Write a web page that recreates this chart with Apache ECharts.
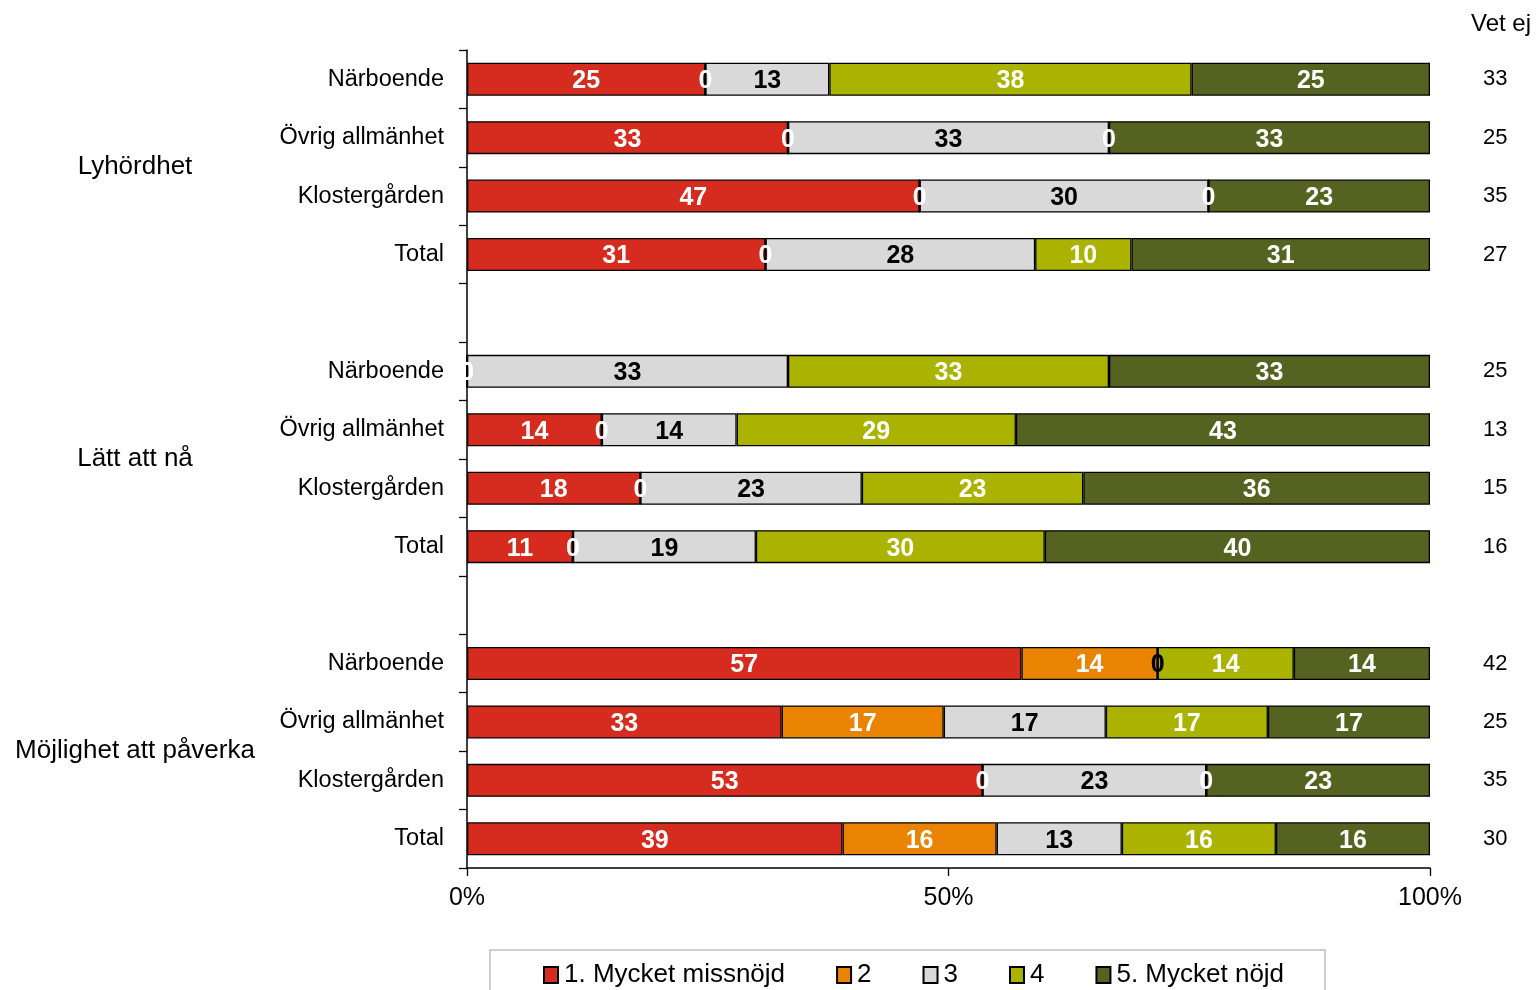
<!DOCTYPE html>
<html>
<head>
<meta charset="utf-8">
<script src="https://cdn.jsdelivr.net/npm/echarts@6/dist/echarts.min.js"></script>
<style>
html,body{margin:0;padding:0;background:#fff;}
#chart{width:1538px;height:990px;}
</style>
</head>
<body>
<div id="chart"></div>
<script>
// ---- data ----
const groups = ['Lyhördhet', 'Lätt att nå', 'Möjlighet att påverka'];
const subCategories = ['Närboende', 'Övrig allmänhet', 'Klostergården', 'Total'];
const seriesNames = ['1. Mycket missnöjd', '2', '3', '4', '5. Mycket nöjd'];
// values per series, rows in order: Lyhördhet x4, Lätt att nå x4, Möjlighet att påverka x4
const s1 = [25, 33, 47, 31, 0, 14, 18, 11, 57, 33, 53, 39];
const s2 = [0, 0, 0, 0, 0, 0, 0, 0, 14, 17, 0, 16];
const s3 = [13, 33, 30, 28, 33, 14, 23, 19, 0, 17, 23, 13];
const s4 = [38, 0, 0, 10, 33, 29, 23, 30, 14, 17, 0, 16];
const s5 = [25, 33, 23, 31, 33, 43, 36, 40, 14, 17, 23, 16];
const vetEj = [33, 25, 35, 27, 25, 13, 15, 16, 42, 25, 35, 30];
const xTicks = [0, 50, 100];

const colors = ['#D62B1F', '#E98300', '#D9D9D9', '#AAB400', '#556220'];
const labelColors = ['#fff', '#fff', '#000', '#fff', '#fff'];
const raw = [s1, s2, s3, s4, s5];

// ---- build slots (with gaps between groups) ----
const slotCats = [];
const slotRow = []; // row index or -1 for gap
groups.forEach((g, gi) => {
  subCategories.forEach((c, ci) => { slotCats.push(c); slotRow.push(gi * 4 + ci); });
  if (gi < groups.length - 1) { slotCats.push(' '.repeat(gi + 1)); slotRow.push(-1); }
});
const rowSums = s1.map((_, r) => raw.reduce((a, s) => a + s[r], 0));
const groupCenter = {};
groups.forEach((g, gi) => { groupCenter[gi * 5 + 2] = g; });

const FONT = "'Liberation Sans', Arial, sans-serif";

const series = raw.map((arr, k) => ({
  name: seriesNames[k],
  type: 'bar',
  stack: 'all',
  yAxisIndex: 0,
  barWidth: 33,
  data: slotRow.map(r => r < 0 ? null : arr[r] / rowSums[r] * 100),
  itemStyle: { color: colors[k], borderColor: '#000', borderWidth: 1.3 },
  label: {
    show: true,
    position: 'inside',
    offset: [0, 2],
    color: labelColors[k],
    fontFamily: FONT,
    fontSize: 25,
    fontWeight: 'bold',
    formatter: p => { const r = slotRow[p.dataIndex]; return r < 0 ? '' : String(arr[r]); }
  },
  emphasis: { disabled: true }
}));

const chart = echarts.init(document.getElementById('chart'));
chart.setOption({
  animation: false,
  backgroundColor: '#fff',
  title: {
    text: 'Vet ej', left: 1471, top: 12, padding: 0,
    textStyle: { fontFamily: FONT, fontSize: 24, fontWeight: 'normal', color: '#000' }
  },
  grid: { left: 467, right: 108, top: 50, bottom: 122, containLabel: false },
  legend: {
    left: 490, top: 950,
    itemWidth: 14, itemHeight: 16, itemGap: 51,
    padding: [12, 41, 30, 53],
    borderColor: '#BFBFBF', borderWidth: 1.5,
    icon: 'rect',
    textStyle: { fontFamily: FONT, fontSize: 26, color: '#000', padding: [0, 0, 0, 1] },
    data: seriesNames
  },
  xAxis: {
    type: 'value', position: 'bottom', min: xTicks[0], max: xTicks[xTicks.length - 1], interval: xTicks[1] - xTicks[0],
    axisLine: { show: true, onZero: false, lineStyle: { color: '#000', width: 1.5 } },
    axisTick: { show: true, length: 8, lineStyle: { color: '#000', width: 1.3 } },
    splitLine: { show: false },
    axisLabel: { formatter: '{value}%', fontFamily: FONT, fontSize: 25, color: '#000', margin: 18 }
  },
  yAxis: [
    {
      type: 'category', data: slotCats, inverse: true, position: 'left',
      axisLine: { show: true, onZero: false, lineStyle: { color: '#000', width: 1.5 } },
      axisTick: { show: true, length: 8, lineStyle: { color: '#000', width: 1.3 } },
      axisLabel: { fontFamily: FONT, fontSize: 23.5, color: '#000', margin: 23, interval: 0, padding: [7, 0, 0, 0] }
    },
    {
      type: 'category', data: slotCats, inverse: true, position: 'right',
      axisLine: { show: false }, axisTick: { show: false },
      axisLabel: {
        fontFamily: FONT, fontSize: 22, color: '#000', margin: 53, align: 'left', interval: 0,
        padding: [4, 0, 0, 0],
        formatter: (v, i) => { const r = slotRow[i]; return r < 0 ? '' : String(vetEj[r]); }
      }
    },
    {
      type: 'value', min: 0, max: slotCats.length, interval: 1, inverse: true, position: 'left',
      axisLine: { show: false, onZero: false }, axisTick: { show: false }, splitLine: { show: false },
      axisLabel: {
        fontFamily: FONT, fontSize: 26, color: '#000', margin: 332, align: 'center',
        showMinLabel: true, showMaxLabel: true, padding: [10, 0, 0, 0],
        formatter: v => groupCenter[v] || ''
      }
    }
  ],
  series: series
});
</script>
</body>
</html>
